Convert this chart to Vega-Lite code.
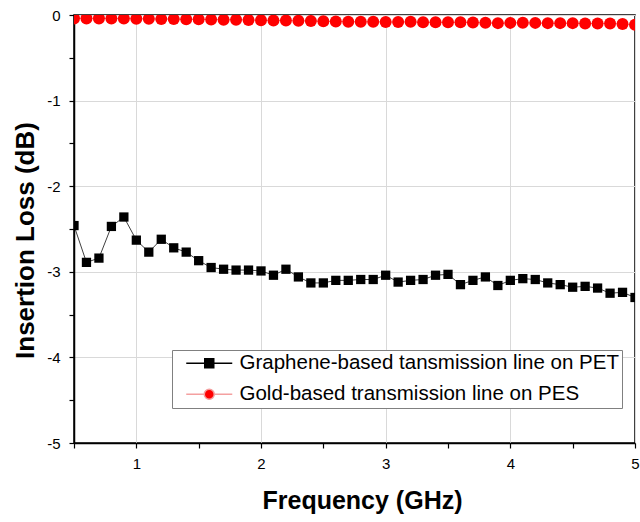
{
  "$schema": "https://vega.github.io/schema/vega-lite/v6.json",
  "width": 561,
  "height": 428,
  "autosize": {"type": "none"},
  "padding": {"left": 74, "top": 15, "right": 5, "bottom": 79},
  "background": "white",
  "config": {
    "view": {"stroke": "black", "strokeWidth": 1.5},
    "font": "Liberation Sans",
    "axis": {
      "domainColor": "black", "domainWidth": 1.5,
      "tickColor": "black", "tickWidth": 1.2, "tickSize": 5,
      "labelFont": "Liberation Sans", "labelFontSize": 15, "labelColor": "black",
      "gridColor": "#d9d9d9", "gridWidth": 1,
      "titleFont": "Liberation Sans", "titleFontSize": 25, "titleFontWeight": "bold", "titleColor": "black"
    },
    "legend": {
      "orient": "none", "legendX": 98, "legendY": 335,
      "labelFont": "Liberation Sans", "labelFontSize": 20.5, "labelColor": "black", "labelLimit": 0,
      "strokeColor": "#808080", "fillColor": "white", "padding": 3,
      "symbolSize": 100, "symbolOffset": 24, "labelOffset": 20, "rowPadding": 10
    }
  },
  "data": {"values": [
    {"f":0.5,"v":-2.46,"s":"G"},{"f":0.6,"v":-2.89,"s":"G"},{"f":0.7,"v":-2.84,"s":"G"},{"f":0.8,"v":-2.47,"s":"G"},{"f":0.9,"v":-2.36,"s":"G"},
    {"f":1.0,"v":-2.63,"s":"G"},{"f":1.1,"v":-2.77,"s":"G"},{"f":1.2,"v":-2.62,"s":"G"},{"f":1.3,"v":-2.72,"s":"G"},{"f":1.4,"v":-2.77,"s":"G"},
    {"f":1.5,"v":-2.87,"s":"G"},{"f":1.6,"v":-2.95,"s":"G"},{"f":1.7,"v":-2.97,"s":"G"},{"f":1.8,"v":-2.98,"s":"G"},{"f":1.9,"v":-2.98,"s":"G"},
    {"f":2.0,"v":-2.99,"s":"G"},{"f":2.1,"v":-3.04,"s":"G"},{"f":2.2,"v":-2.97,"s":"G"},{"f":2.3,"v":-3.06,"s":"G"},{"f":2.4,"v":-3.13,"s":"G"},
    {"f":2.5,"v":-3.13,"s":"G"},{"f":2.6,"v":-3.10,"s":"G"},{"f":2.7,"v":-3.10,"s":"G"},{"f":2.8,"v":-3.09,"s":"G"},{"f":2.9,"v":-3.09,"s":"G"},
    {"f":3.0,"v":-3.04,"s":"G"},{"f":3.1,"v":-3.12,"s":"G"},{"f":3.2,"v":-3.10,"s":"G"},{"f":3.3,"v":-3.09,"s":"G"},{"f":3.4,"v":-3.04,"s":"G"},
    {"f":3.5,"v":-3.03,"s":"G"},{"f":3.6,"v":-3.15,"s":"G"},{"f":3.7,"v":-3.10,"s":"G"},{"f":3.8,"v":-3.06,"s":"G"},{"f":3.9,"v":-3.16,"s":"G"},
    {"f":4.0,"v":-3.10,"s":"G"},{"f":4.1,"v":-3.08,"s":"G"},{"f":4.2,"v":-3.09,"s":"G"},{"f":4.3,"v":-3.13,"s":"G"},{"f":4.4,"v":-3.15,"s":"G"},
    {"f":4.5,"v":-3.18,"s":"G"},{"f":4.6,"v":-3.17,"s":"G"},{"f":4.7,"v":-3.19,"s":"G"},{"f":4.8,"v":-3.25,"s":"G"},{"f":4.9,"v":-3.24,"s":"G"},
    {"f":5.0,"v":-3.30,"s":"G"},
    {"f":0.5,"v":-0.040,"s":"Au"},{"f":0.6,"v":-0.040,"s":"Au"},{"f":0.7,"v":-0.040,"s":"Au"},{"f":0.8,"v":-0.042,"s":"Au"},{"f":0.9,"v":-0.042,"s":"Au"},
    {"f":1.0,"v":-0.045,"s":"Au"},{"f":1.1,"v":-0.045,"s":"Au"},{"f":1.2,"v":-0.048,"s":"Au"},{"f":1.3,"v":-0.048,"s":"Au"},{"f":1.4,"v":-0.050,"s":"Au"},
    {"f":1.5,"v":-0.050,"s":"Au"},{"f":1.6,"v":-0.052,"s":"Au"},{"f":1.7,"v":-0.055,"s":"Au"},{"f":1.8,"v":-0.055,"s":"Au"},{"f":1.9,"v":-0.058,"s":"Au"},
    {"f":2.0,"v":-0.060,"s":"Au"},{"f":2.1,"v":-0.065,"s":"Au"},{"f":2.2,"v":-0.065,"s":"Au"},{"f":2.3,"v":-0.068,"s":"Au"},{"f":2.4,"v":-0.070,"s":"Au"},
    {"f":2.5,"v":-0.072,"s":"Au"},{"f":2.6,"v":-0.075,"s":"Au"},{"f":2.7,"v":-0.078,"s":"Au"},{"f":2.8,"v":-0.080,"s":"Au"},{"f":2.9,"v":-0.080,"s":"Au"},
    {"f":3.0,"v":-0.082,"s":"Au"},{"f":3.1,"v":-0.082,"s":"Au"},{"f":3.2,"v":-0.080,"s":"Au"},{"f":3.3,"v":-0.085,"s":"Au"},{"f":3.4,"v":-0.085,"s":"Au"},
    {"f":3.5,"v":-0.085,"s":"Au"},{"f":3.6,"v":-0.085,"s":"Au"},{"f":3.7,"v":-0.088,"s":"Au"},{"f":3.8,"v":-0.090,"s":"Au"},{"f":3.9,"v":-0.095,"s":"Au"},
    {"f":4.0,"v":-0.092,"s":"Au"},{"f":4.1,"v":-0.090,"s":"Au"},{"f":4.2,"v":-0.092,"s":"Au"},{"f":4.3,"v":-0.095,"s":"Au"},{"f":4.4,"v":-0.095,"s":"Au"},
    {"f":4.5,"v":-0.095,"s":"Au"},{"f":4.6,"v":-0.100,"s":"Au"},{"f":4.7,"v":-0.100,"s":"Au"},{"f":4.8,"v":-0.100,"s":"Au"},{"f":4.9,"v":-0.105,"s":"Au"},
    {"f":5.0,"v":-0.115,"s":"Au"}
  ]},
  "layer": [
    {
      "mark": {"type": "line", "strokeWidth": 1, "clip": true},
      "encoding": {
        "x": {
          "field": "f", "type": "quantitative",
          "scale": {"domain": [0.5, 5], "nice": false, "zero": false},
          "axis": {
            "title": "Frequency (GHz)",
            "values": [0.5, 1, 1.5, 2, 2.5, 3, 3.5, 4, 4.5, 5],
            "labelExpr": "datum.value % 1 === 0 ? '' + datum.value : ''",
            "gridOpacity": {"condition": {"test": "datum.value % 1 !== 0", "value": 0}, "value": 1},
            "labelPadding": 8, "labelFlush": false, "labelOverlap": false,
            "titleX": 288, "titleY": 57, "titleAlign": "center", "titleBaseline": "middle"
          }
        },
        "y": {
          "field": "v", "type": "quantitative",
          "scale": {"domain": [-5, 0], "nice": false, "zero": false},
          "axis": {
            "title": "Insertion Loss (dB)",
            "values": [0, -0.5, -1, -1.5, -2, -2.5, -3, -3.5, -4, -4.5, -5],
            "labelExpr": "datum.value % 1 === 0 ? '' + datum.value : ''",
            "gridOpacity": {"condition": {"test": "datum.value % 1 !== 0", "value": 0}, "value": 1},
            "labelPadding": 9, "labelFlush": false, "labelOverlap": false,
            "titleFontSize": 26,
            "titleX": -49, "titleY": 225, "titleAlign": "center", "titleBaseline": "middle", "titleAngle": -90
          }
        },
        "detail": {"field": "s", "type": "nominal"},
        "stroke": {"condition": {"test": "datum.s === 'G'", "value": "#404040"}, "value": "#f29a9a"}
      }
    },
    {
      "mark": {"type": "point", "filled": true, "opacity": 1, "clip": true},
      "encoding": {
        "x": {"field": "f", "type": "quantitative"},
        "y": {"field": "v", "type": "quantitative"},
        "fill": {"condition": {"test": "datum.s === 'G'", "value": "#000000"}, "value": "#ff0000"},
        "shape": {"condition": {"test": "datum.s === 'G'", "value": "square"}, "value": "circle"},
        "size": {"condition": {"test": "datum.s === 'G'", "value": 86}, "value": 144}
      }
    },
    {
      "transform": [{"filter": "false"}],
      "mark": {"type": "point", "filled": true, "opacity": 1, "strokeWidth": 1, "size": 100},
      "encoding": {
        "x": {"field": "f", "type": "quantitative"},
        "y": {"field": "v", "type": "quantitative"},
        "fill": {
          "field": "s", "type": "nominal",
          "scale": {"domain": ["G", "Au"], "range": ["#000000", "#ff0000"]},
          "legend": {"title": null, "labelExpr": "datum.value === 'G' ? 'Graphene-based tansmission line on PET' : 'Gold-based transmission line on PES'"}
        },
        "stroke": {
          "field": "s", "type": "nominal",
          "scale": {"domain": ["G", "Au"], "range": ["#000000", "#f4a0a0"]},
          "legend": {"title": null, "labelExpr": "datum.value === 'G' ? 'Graphene-based tansmission line on PET' : 'Gold-based transmission line on PES'"}
        },
        "shape": {
          "field": "s", "type": "nominal",
          "scale": {"domain": ["G", "Au"], "range": ["M-4.6,0H-0.9M0.9,0H4.6M-0.9,-0.9H0.9V0.9H-0.9Z", "M-4.6,0H-1M1,0H4.6M1,0A1,1,0,1,1,-1,0A1,1,0,1,1,1,0Z"]},
          "legend": {"title": null, "labelExpr": "datum.value === 'G' ? 'Graphene-based tansmission line on PET' : 'Gold-based transmission line on PES'"}
        }
      }
    }
  ]
}
